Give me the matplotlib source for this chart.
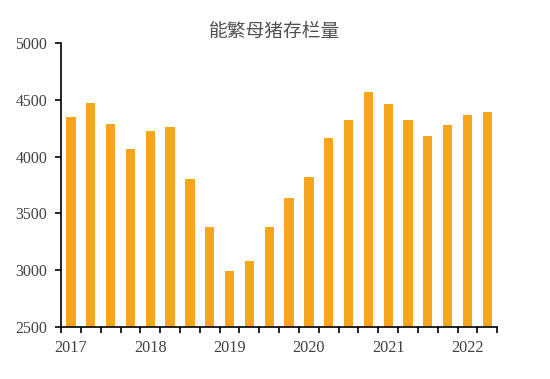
import matplotlib
matplotlib.use("Agg")
import matplotlib.pyplot as plt
import numpy as np

# quarterly sow inventory, 2017Q1 - 2022Q2
values = [4351, 4469, 4290, 4070, 4228, 4263, 3803, 3377, 2993, 3081, 3383,
          3633, 3823, 4161, 4322, 4566, 4460, 4322, 4184, 4278, 4364, 4393]
years = ["2017", "2018", "2019", "2020", "2021", "2022"]
title = "能繁母猪存栏量"

bar_color = "#F7A51C"
text_color = "#404040"


def main():
    fig = plt.figure(figsize=(5.5, 3.79), dpi=100)
    ax = fig.add_axes([0.111, 0.137, 0.793, 0.750])

    x = np.arange(len(values))
    ax.bar(x, values, width=0.47, color=bar_color)

    ax.set_ylim(2500, 5000)
    ax.set_yticks([2500, 3000, 3500, 4000, 4500, 5000])
    ax.set_xlim(-0.5, len(values) - 0.5)

    # tick marks between bars, year labels under each Q1 bar
    ax.set_xticks(np.arange(len(values) + 1) - 0.5)
    ax.set_xticklabels([])
    ax.set_xticks(np.arange(len(years)) * 4, minor=True)
    ax.set_xticklabels(years, minor=True)
    ax.tick_params(axis="x", which="major", direction="out", length=4,
                   width=1.2, color="black")
    ax.tick_params(axis="x", which="minor", length=0, pad=9)
    ax.tick_params(axis="y", direction="out", length=4, width=1.2,
                   color="black", pad=6)

    for lab in ax.get_xticklabels(minor=True):
        lab.set_fontfamily("Liberation Serif")
        lab.set_fontsize(11.7)
        lab.set_color(text_color)
    for lab in ax.get_yticklabels():
        lab.set_fontfamily("Liberation Serif")
        lab.set_fontsize(11.4)
        lab.set_color(text_color)

    ax.spines["top"].set_visible(False)
    ax.spines["right"].set_visible(False)
    ax.spines["left"].set_linewidth(1.2)
    ax.spines["bottom"].set_linewidth(1.2)

    fig.text(0.5, 0.916, title, ha="center", va="center", fontsize=13.5,
             color="#505050", family=["Noto Sans CJK SC", "DejaVu Sans"])

    fig.savefig("out.png", dpi=100)


if __name__ == "__main__":
    main()
